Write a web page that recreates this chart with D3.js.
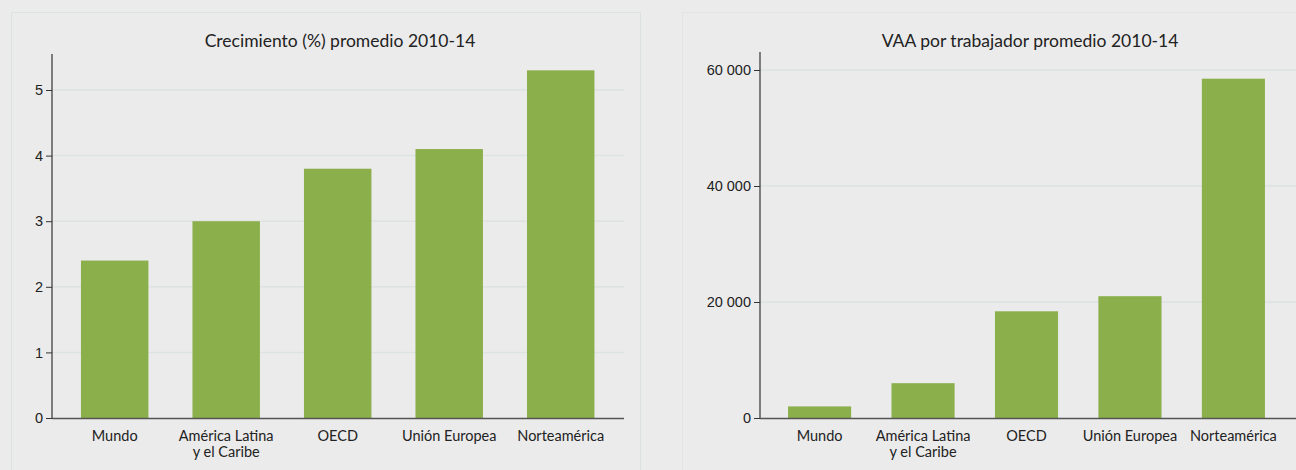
<!DOCTYPE html>
<html>
<head>
<meta charset="utf-8">
<script src="https://cdn.jsdelivr.net/npm/d3@7"></script>
<style>
  body { margin: 0; background: #ebebeb; }
  svg { display: block; font-family: Lato, "Open Sans", sans-serif; }
</style>
</head>
<body>
<svg id="chart"></svg>
<script>
// Data
const categories = ["Mundo", "América Latina\ny el Caribe", "OECD", "Unión Europea", "Norteamérica"];
const growthValues = [2.4, 3.0, 3.8, 4.1, 5.3];
const vaaValues = [2000, 6000, 18400, 21000, 58500];
const growthTicks = [0, 1, 2, 3, 4, 5];
const vaaTicks = [0, 20000, 40000, 60000];

const width = 1296;
const height = 470;
const barColor = "#8baf4b";
const gridColor = "#dde2e2";

const svg = d3.select("#chart")
    .attr("width", width)
    .attr("height", height);

svg.append("rect")
    .attr("width", width).attr("height", height)
    .attr("fill", "#ebebeb");

// panel frames
svg.append("rect")
    .attr("x", 11.5).attr("y", 12.5).attr("width", 629).attr("height", 470)
    .attr("fill", "none").attr("stroke", "#dce2e2");
svg.append("rect")
    .attr("x", 682.5).attr("y", 12.5).attr("width", 640).attr("height", 470)
    .attr("fill", "none").attr("stroke", "#e2e5e5");

const fmt = d3.format(",");
function spaceFmt(d) { return fmt(d).replace(/,/g, " "); }

function drawChart(opt) {
    const g = svg.append("g");

    const y = d3.scaleLinear()
        .domain(opt.domain)
        .range([418, opt.yTop]);

    const x = d3.scaleBand()
        .domain(categories)
        .range(opt.bandRange)
        .paddingInner(opt.padIn)
        .paddingOuter(opt.padOut);

    // gridlines
    g.selectAll(".grid")
        .data(opt.ticks.filter(d => d > 0))
        .enter().append("line")
        .attr("x1", opt.axisX).attr("x2", opt.axisEnd)
        .attr("y1", d => y(d)).attr("y2", d => y(d))
        .attr("stroke", gridColor)
        .attr("stroke-width", 1.5);

    // bars
    g.selectAll(".bar")
        .data(opt.values)
        .enter().append("rect")
        .attr("x", (d, i) => x(categories[i]))
        .attr("y", d => y(d))
        .attr("width", x.bandwidth())
        .attr("height", d => y(0) - y(d))
        .attr("fill", barColor);

    // y-axis
    const yAxis = d3.axisLeft(y)
        .tickValues(opt.ticks)
        .tickSize(6)
        .tickPadding(3)
        .tickFormat(opt.format);
    const ya = g.append("g")
        .attr("transform", "translate(" + opt.axisX + ",0)")
        .call(yAxis);
    ya.select(".domain").remove();
    ya.selectAll(".tick line").attr("stroke", "#333");
    ya.selectAll("text").attr("font-size", 14.5).attr("fill", "#222");
    g.append("line")
        .attr("x1", opt.axisX).attr("x2", opt.axisX)
        .attr("y1", opt.axisTop).attr("y2", 418)
        .attr("stroke", "#333").attr("stroke-width", 1.2);

    // x-axis line
    g.append("line")
        .attr("x1", opt.axisX).attr("x2", opt.axisEnd)
        .attr("y1", 418.5).attr("y2", 418.5)
        .attr("stroke", "#555").attr("stroke-width", 1.5);

    // category labels
    const labels = g.selectAll(".cat")
        .data(categories)
        .enter().append("text")
        .attr("text-anchor", "middle")
        .attr("font-size", 14.5)
        .attr("fill", "#222")
        .attr("transform", d => "translate(" + (x(d) + x.bandwidth() / 2) + ",441)");
    labels.each(function(d) {
        const parts = d.split("\n");
        d3.select(this).selectAll("tspan")
            .data(parts)
            .enter().append("tspan")
            .attr("x", 0)
            .attr("dy", (p, i) => i === 0 ? 0 : 16)
            .text(p => p);
    });

    // title
    g.append("text")
        .attr("x", opt.titleX).attr("y", 47)
        .attr("text-anchor", "middle")
        .attr("font-size", 17.5)
        .attr("fill", "#222")
        .text(opt.title);
}

drawChart({
    values: growthValues,
    ticks: growthTicks,
    domain: [0, 5],
    yTop: 90,
    axisTop: 54,
    axisX: 52,
    axisEnd: 624,
    bandRange: [69.8, 605.6],
    padIn: 0.395,
    padOut: 0.1,
    format: d3.format("d"),
    title: "Crecimiento (%) promedio 2010-14",
    titleX: 340
});

drawChart({
    values: vaaValues,
    ticks: vaaTicks,
    domain: [0, 60000],
    yTop: 70,
    axisTop: 52,
    axisX: 760,
    axisEnd: 1296,
    bandRange: [777.7, 1275.3],
    padIn: 0.39,
    padOut: 0.1,
    format: spaceFmt,
    title: "VAA por trabajador promedio 2010-14",
    titleX: 1030
});
</script>
</body>
</html>
